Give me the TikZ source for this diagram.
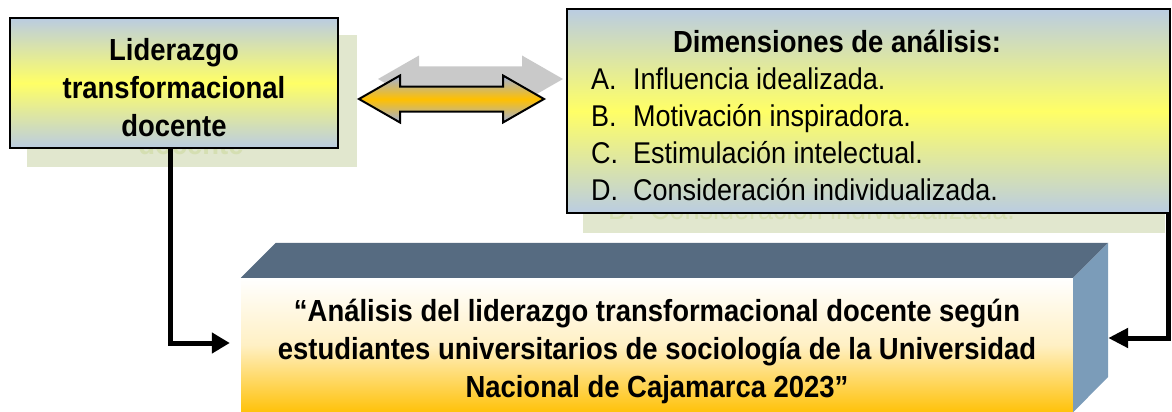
\documentclass[tikz,border=0pt]{standalone}
\usepackage{fontspec}
\setmainfont{Liberation Sans}[FakeStretch=0.9]
\usetikzlibrary{calc,arrows.meta}
\definecolor{boxblue}{HTML}{BACCE2}
\definecolor{boxyellow}{HTML}{FFFF66}
\definecolor{shadowgreen}{HTML}{E1E7CE}
\definecolor{ghost}{HTML}{D5DFB2}
\definecolor{arrowblue}{HTML}{9FB0DD}
\definecolor{arroworange}{HTML}{FFC000}
\definecolor{arrowgray}{HTML}{C9C9C9}
\definecolor{topface}{HTML}{566B81}
\definecolor{sideface}{HTML}{7B9CB9}
\definecolor{frontmid}{HTML}{FFF0C4}
\definecolor{frontbot}{HTML}{FFC20A}
\tikzset{
  gradbox/.style={draw=black, line width=2.5pt, top color=boxblue, bottom color=boxblue, middle color=boxyellow, inner sep=0pt},
  shadowbox/.style={fill=shadowgreen, draw=none, inner sep=0pt},
  bigtext/.style={font=\bfseries\fontsize{30.5}{38}\selectfont, align=center, inner sep=0pt},
  itemtext/.style={font=\fontsize{30}{37}\selectfont, anchor=base west, inner sep=0pt},
  conn/.style={line width=5pt, line join=miter},
}
\begin{document}
\begin{tikzpicture}[x=1pt,y=-1pt]
\useasboundingbox (0,0) rectangle (1172,412);
% shadows
\node[shadowbox, minimum width=330pt, minimum height=132pt] (lbs) at (192,101) {};
\node[shadowbox, minimum width=582pt, minimum height=204pt] (rbs) at (874,131) {};
\node[bigtext, text=ghost] (lbg) at (191,106) {Liderazgo\\transformacional\\docente};
\node[itemtext, text=ghost] (rbg1) at (608,219) {D.};
\node[itemtext, text=ghost] (rbg2) at (650,219) {Consideración individualizada.};
% double arrow
\fill[arrowgray] (378,79) -- (419,55.5) -- (419,66.5) -- (522,66.5) -- (522,55.5) -- (563,79) -- (522,102.5) -- (522,91.5) -- (419,91.5) -- (419,102.5) -- cycle;
\draw[line width=2pt, line join=miter, top color=arrowblue, bottom color=arrowblue, middle color=arroworange]
 (359,99) -- (400,75.5) -- (400,86.5) -- (503,86.5) -- (503,75.5) -- (544,99) -- (503,122.5) -- (503,111.5) -- (400,111.5) -- (400,122.5) -- cycle;
% left box
\node[gradbox, minimum width=328pt, minimum height=130pt] (lb) at (174,83) {};
\node[bigtext] (lbt) at (174,88) {Liderazgo\\transformacional\\docente};
% right box
\node[gradbox, minimum width=603pt, minimum height=204pt] (rb) at (868.5,111) {};
\node[bigtext] (rbt) at (837,41) {Dimensiones de análisis:};
\node[itemtext] (ia) at (591,89) {A.};
\node[itemtext] (ta) at (633,89) {Influencia idealizada.};
\node[itemtext] (ib) at (591,126) {B.};
\node[itemtext] (tb) at (633,126) {Motivación inspiradora.};
\node[itemtext] (ic) at (591,163) {C.};
\node[itemtext] (tc) at (633,163) {Estimulación intelectual.};
\node[itemtext] (id) at (591,200) {D.};
\node[itemtext] (td) at (633,200) {Consideración individualizada.};
% 3D title box
\node[top color=white, bottom color=frontbot, middle color=frontmid, inner sep=0pt, minimum width=832pt, minimum height=134pt] (title) at (657,345) {};
\fill[topface] (title.north west) -- ++(35,-35) -- ($(title.north east)+(35,-35)$) -- (title.north east) -- cycle;
\fill[sideface] (title.north east) -- ++(35,-35) -- ++(0,134) -- (title.south east) -- cycle;
\node[bigtext] (tt) at (657,351) {“Análisis del liderazgo transformacional docente según\\estudiantes universitarios de sociología de la Universidad\\Nacional de Cajamarca 2023”};
% connectors
\coordinate (lend) at ([xshift=-11pt,yshift=2pt]title.west);
\coordinate (rend) at ($(title.east)+(35,-7)$);
\draw[conn, -{Triangle[length=18pt,width=20pt]}] ([xshift=-4pt]lb.south) |- (lend);
\draw[conn, -{Triangle[length=20pt,width=19pt]}] ([xshift=-3pt]rb.south east) |- (rend);
\end{tikzpicture}
\end{document}
